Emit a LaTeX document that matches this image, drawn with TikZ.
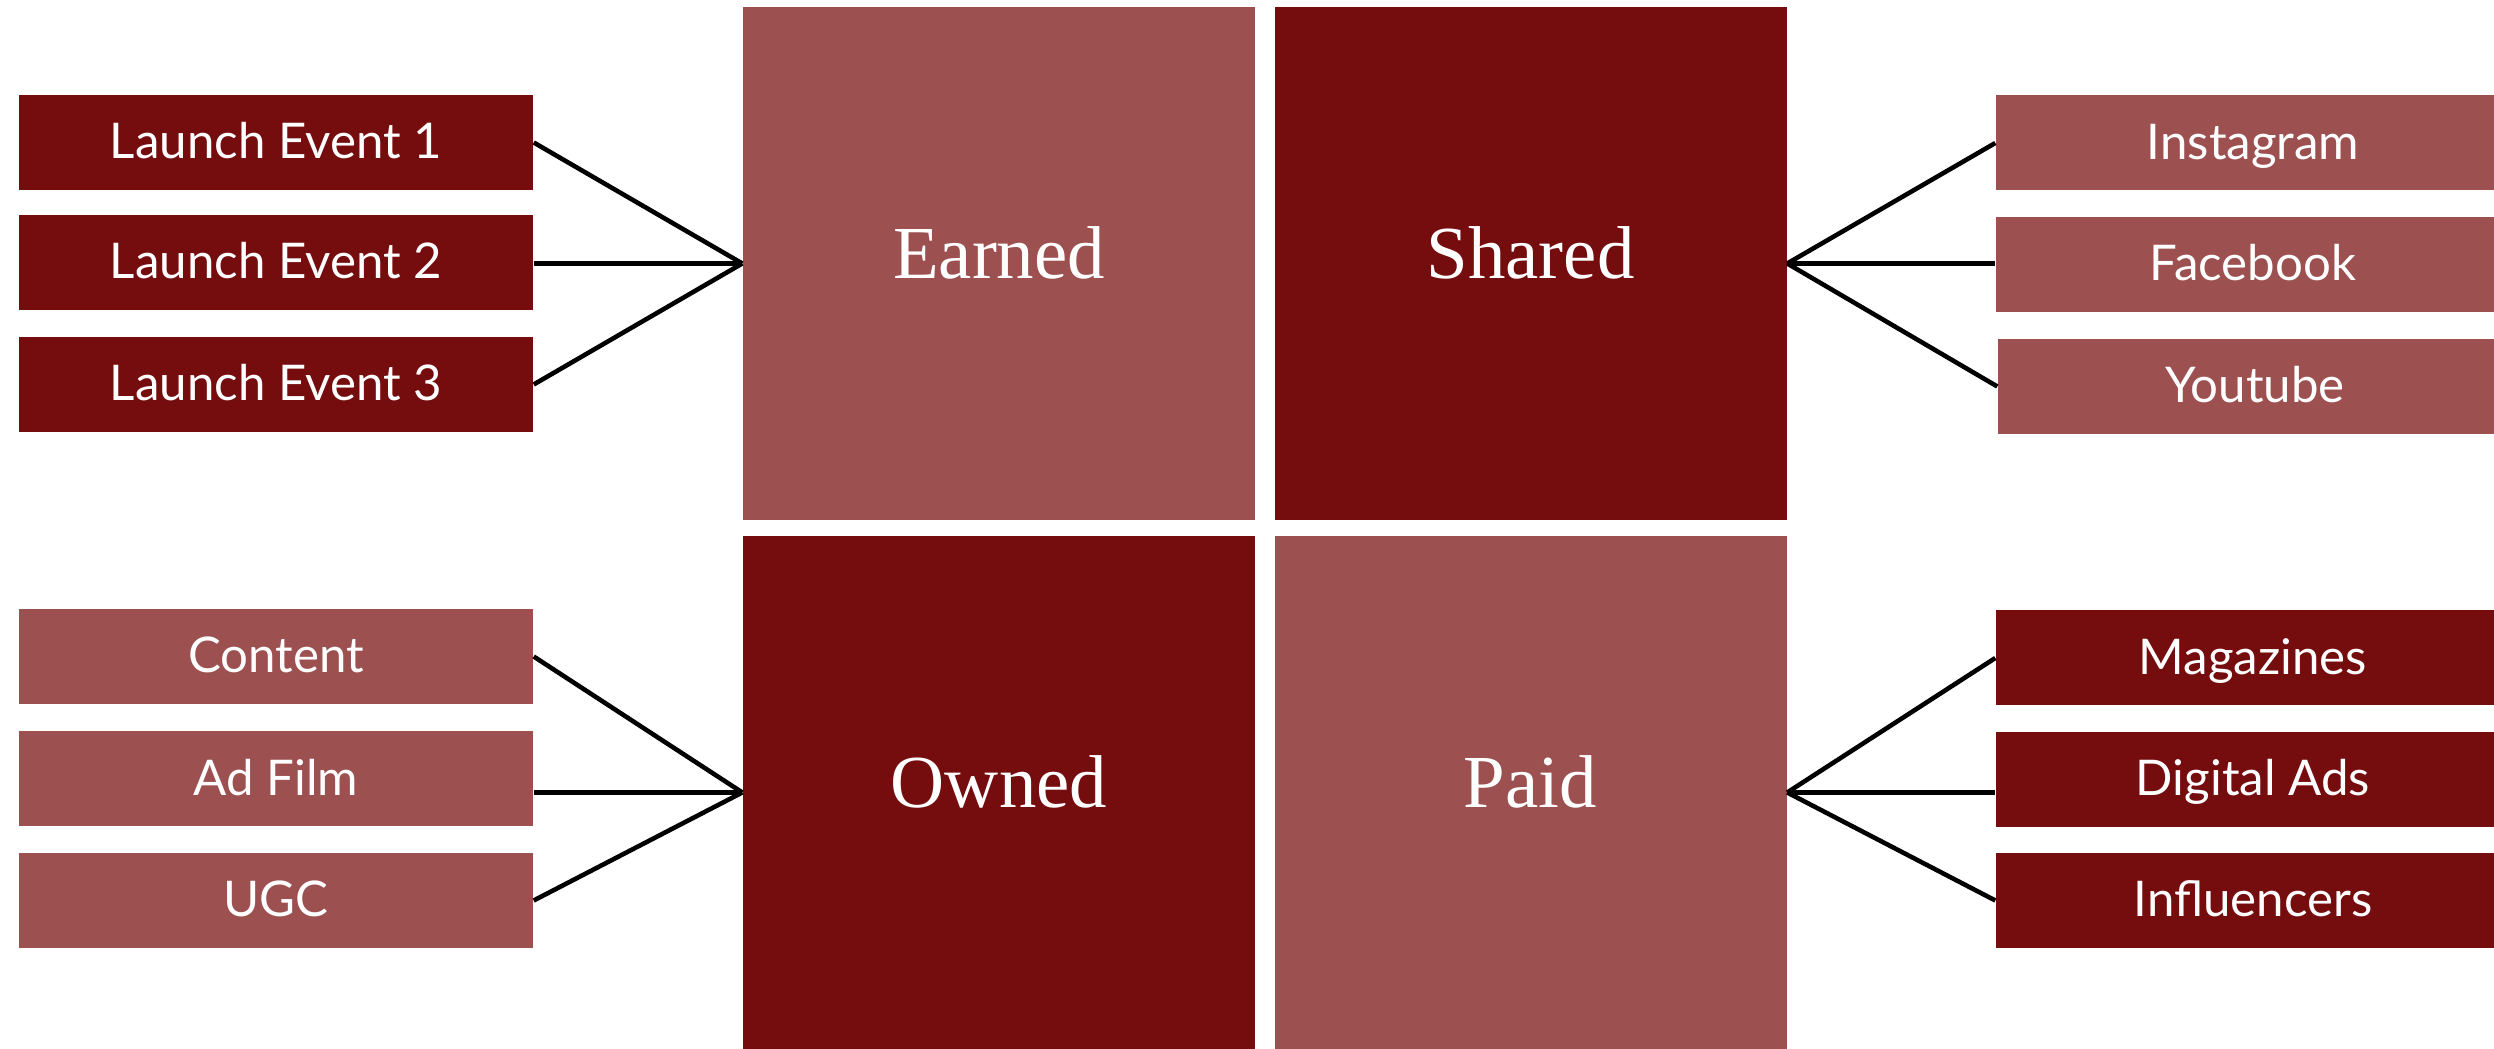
\documentclass[tikz,border=0pt]{standalone}
\usepackage{fontspec}
\setmainfont{Liberation Serif}
\newfontfamily\tagfont{Lato}

\definecolor{deepred}{RGB}{117,12,14}
\definecolor{rosered}{RGB}{157,80,80}

\begin{document}
\begin{tikzpicture}[
  quad/.style={minimum width=5.12cm, minimum height=5.13cm, inner sep=0pt,
    text=white, text height=0.5cm, text depth=0.2cm,
    font=\fontsize{21.3}{24}\selectfont},
  tag/.style={minimum width=5.14cm, minimum height=0.95cm, inner sep=0pt,
    text=white, text height=0.33cm, text depth=0pt,
    font=\tagfont\fontsize{14}{16}\selectfont},
  link/.style={line width=1.3pt}
]
  \useasboundingbox (0,0) rectangle (24.94,-10.49);
  \fill[white] (0,0) rectangle (24.94,-10.49);

  % the four quadrants
  \node[quad, fill=rosered] (earned) at (9.99,-2.635) {Earned};
  \node[quad, fill=deepred] (shared) at (15.305,-2.635) {Shared};
  \node[quad, fill=deepred] (owned) at (9.99,-7.925) {Owned};
  \node[quad, fill=rosered] (paid) at (15.305,-7.925) {Paid};

  % left column
  \node[tag, fill=deepred] (event1) at (2.76,-1.425) {Launch Event 1};
  \node[tag, fill=deepred] (event2) at (2.76,-2.625) {Launch Event 2};
  \node[tag, fill=deepred] (event3) at (2.76,-3.845) {Launch Event 3};
  \node[tag, fill=rosered] (content) at (2.76,-6.565) {Content};
  \node[tag, fill=rosered] (adfilm) at (2.76,-7.79) {Ad Film};
  \node[tag, fill=rosered] (ugc) at (2.76,-9.005) {UGC};

  % right column
  \node[tag, fill=rosered] (insta) at (22.53,-1.43) {Instagram};
  \node[tag, fill=rosered] (fb) at (22.53,-2.645) {Facebook};
  \node[tag, fill=rosered] (yt) at (22.55,-3.865) {Youtube};
  \node[tag, fill=deepred] (mags) at (22.53,-6.58) {Magazines};
  \node[tag, fill=deepred] (digital) at (22.53,-7.795) {Digital Ads};
  \node[tag, fill=deepred] (influ) at (22.53,-9.005) {Influencers};

  % fan-in lines, the middle ones run straight across
  \draw[link] (event1.east) -- (earned.west);
  \draw[link] (earned.west -| event2.east) -- (earned.west);
  \draw[link] (event3.east) -- (earned.west);
  \draw[link] (content.east) -- (owned.west);
  \draw[link] (owned.west -| adfilm.east) -- (owned.west);
  \draw[link] (ugc.east) -- (owned.west);
  \draw[link] (shared.east) -- (insta.west);
  \draw[link] (shared.east) -- (shared.east -| fb.west);
  \draw[link] (shared.east) -- (yt.west);
  \draw[link] (paid.east) -- (mags.west);
  \draw[link] (paid.east) -- (paid.east -| digital.west);
  \draw[link] (paid.east) -- (influ.west);
\end{tikzpicture}
\end{document}
